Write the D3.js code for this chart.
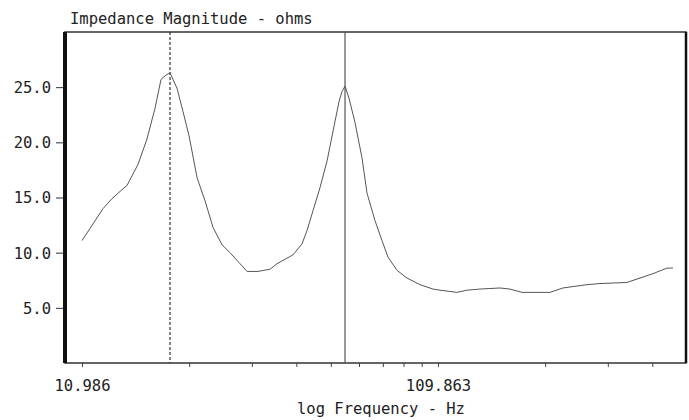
<!DOCTYPE html>
<html>
<head>
<meta charset="utf-8">
<script src="https://cdn.jsdelivr.net/npm/d3@7"></script>
<style>
  body { margin: 0; background: #fff; }
  text { font-family: "DejaVu Sans Mono", monospace; font-size: 15.5px; fill: #222; }
</style>
</head>
<body>
<div class="chart"></div>
<script>
// impedance sweep
const freq = [10.986, 11.57, 12.59, 13.34, 14.33, 14.70, 15.78, 16.72, 17.62, 18.31, 18.92, 19.41,
  20.31, 21.11, 21.95, 23.12, 24.34, 25.63, 27.18, 28.61, 30.53, 31.94, 34.29, 37.07, 38.78,
  43.00, 45.59, 47.08, 48.95, 51.22, 53.59, 55.71, 57.92, 59.05, 60.21, 61.78, 64.22, 67.19,
  69.41, 73.09, 76.47, 79.49, 84.26, 89.90, 97.78, 106.4, 111.3, 124.2, 132.5, 144.1, 164.1,
  175.0, 189.2, 226.7, 246.5, 288.0, 313.2, 373.0, 405.8, 441.4, 483.3, 502.3];
const ohms = [11.1, 12.2, 14.0, 14.9, 15.8, 16.1, 18.0, 20.3, 23.1, 25.7, 26.1, 26.3,
  24.9, 22.8, 20.6, 16.8, 14.7, 12.3, 10.7, 10.0, 9.0, 8.3, 8.3, 8.5, 9.0,
  9.8, 10.8, 12.0, 13.8, 15.9, 18.3, 21.0, 23.7, 24.6, 25.1, 24.0, 21.8, 18.6,
  15.4, 12.9, 11.1, 9.6, 8.4, 7.7, 7.1, 6.7, 6.6, 6.4, 6.6, 6.7, 6.8,
  6.7, 6.4, 6.4, 6.8, 7.1, 7.2, 7.3, 7.7, 8.1, 8.6, 8.6];

const freqDomain = [9.84, 546.5];
const freqTicks = [10.986, 21.972, 32.959, 43.945, 54.931, 65.917, 76.903, 87.890, 98.876,
  109.863, 219.726, 329.589, 439.452];
const freqLabels = [10.986, 109.863];
const ohmTicks = [5, 10, 15, 20, 25];
const markers = [19.41, 60.21]; // dashed cursor, solid cursor

const margin = {top: 32, right: 3, bottom: 57, left: 65};
const outerWidth = 689, outerHeight = 420;
const width = outerWidth - margin.left - margin.right;
const height = outerHeight - margin.top - margin.bottom;

const svg = d3.select('.chart').append('svg')
    .attr('width', outerWidth)
    .attr('height', outerHeight)
    .append('g')
    .attr('transform', 'translate(' + margin.left + ',' + margin.top + ')');

const x = d3.scaleLog().domain(freqDomain).range([0, width]);
const y = d3.scaleLinear().domain([0, 30]).range([height, 0]);

// y axis
const yAxis = svg.append('g')
    .call(d3.axisLeft(y).tickValues(ohmTicks).tickSize(7).tickPadding(7).tickFormat(d3.format('.1f')));
yAxis.select('.domain').remove();
yAxis.selectAll('line').attr('stroke', '#333').attr('transform', 'translate(-2,0)');
yAxis.selectAll('text').attr('font-size', null).attr('font-family', null).attr('dy', '0.35em');

// x axis
const xAxis = svg.append('g')
    .attr('transform', 'translate(0,' + height + ')')
    .call(d3.axisBottom(x).tickValues(freqTicks).tickSize(4).tickPadding(7)
        .tickFormat(d => freqLabels.includes(d) ? d3.format('.3f')(d) : ''));
xAxis.select('.domain').remove();
xAxis.selectAll('line').attr('stroke', '#444');
xAxis.selectAll('text').attr('font-size', null).attr('font-family', null).attr('dy', '1.1em');

// frame
svg.append('rect')
    .attr('width', width).attr('height', height)
    .attr('fill', 'none').attr('stroke', '#333').attr('stroke-width', 1.5);
svg.append('line').attr('x1', 0).attr('x2', 0).attr('y1', 0).attr('y2', height)
    .attr('stroke', '#111').attr('stroke-width', 4);
svg.append('line').attr('x1', width).attr('x2', width).attr('y1', 0).attr('y2', height)
    .attr('stroke', '#111').attr('stroke-width', 2.5);

// cursors
svg.selectAll('.marker')
    .data(markers)
    .enter().append('line')
    .attr('class', 'marker')
    .attr('x1', d => x(d)).attr('x2', d => x(d))
    .attr('y1', 0).attr('y2', height)
    .attr('stroke', (d, i) => i === 0 ? '#333' : '#555')
    .attr('stroke-width', 1.2)
    .attr('stroke-dasharray', (d, i) => i === 0 ? '3,2' : null);

// curve
svg.append('path')
    .datum(d3.zip(freq, ohms))
    .attr('fill', 'none')
    .attr('stroke', '#555')
    .attr('stroke-width', 1)
    .attr('d', d3.line()
        .x(d => x(d[0]))
        .y(d => y(d[1])));

// titles
svg.append('text')
    .attr('x', 5).attr('y', -8)
    .text('Impedance Magnitude - ohms');
svg.append('text')
    .attr('x', x(109.863) - 57).attr('y', height + 51)
    .attr('text-anchor', 'middle')
    .text('log Frequency - Hz');
</script>
</body>
</html>
